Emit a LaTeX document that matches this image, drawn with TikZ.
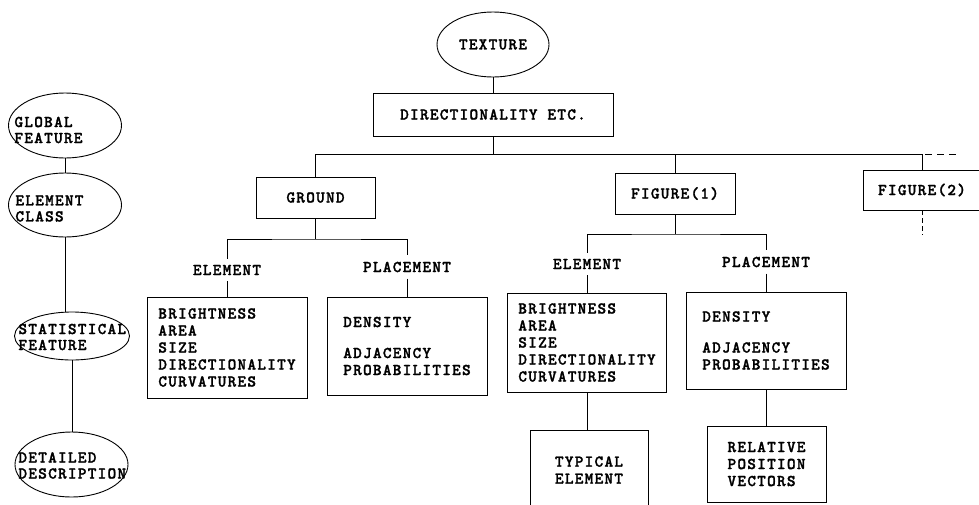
\documentclass[tikz,border=0pt]{standalone}
\usepackage{fontspec}
\setmonofont{lmmonolt10-bold.otf}[LetterSpace=7.5,FakeBold=1.5]
\usetikzlibrary{shapes.geometric}
\begin{document}
\begin{tikzpicture}[x=1pt,y=-1pt,line width=0.9pt,
  every node/.style={font=\fontsize{16.5}{17}\selectfont\ttfamily},
  box/.style={draw,rectangle,inner sep=0pt,align=left},
  oval/.style={draw,ellipse,inner sep=0pt},
  lbl/.style={inner xsep=0pt,inner ysep=6pt},
  etxt/.style={inner sep=0pt,align=left,anchor=west,font=\fontsize{16.5}{16}\selectfont\ttfamily}]
\useasboundingbox (0,0) rectangle (979,504);

% main tree
\node[oval,minimum width=112pt,minimum height=65pt] (texture) at (493,44.5) {TEXTURE};
\node[box,minimum width=240pt,minimum height=43pt] (dir) at (493,114.5) {DIRECTIONALITY ETC.};
\node[box,minimum width=119pt,minimum height=41pt] (ground) at (315.5,197.5) {GROUND};
\node[box,minimum width=120pt,minimum height=41pt] (fig1) at (675,193.5) {FIGURE(1)};
\node[box,minimum width=118pt,minimum height=40pt] (fig2) at (922,190) {FIGURE(2)};

% ground branch
\node[lbl] (gelab) at (227,270) {ELEMENT};
\node[lbl] (gplab) at (407,267) {PLACEMENT};
\node[box,minimum width=160pt,minimum height=101pt] (gel) at (227,347.5) {BRIGHTNESS\\AREA\\SIZE\\DIRECTIONALITY\\CURVATURES};
\node[box,minimum width=160pt,minimum height=98pt] (gpl) at (407,346) {DENSITY\\[14pt]ADJACENCY\\PROBABILITIES};

% figure(1) branch
\node[lbl] (felab) at (587,264) {ELEMENT};
\node[lbl] (fplab) at (766,262) {PLACEMENT};
\node[box,minimum width=159pt,minimum height=99pt] (fel) at (587,342.5) {BRIGHTNESS\\AREA\\SIZE\\DIRECTIONALITY\\CURVATURES};
\node[box,minimum width=160pt,minimum height=97pt] (fpl) at (766,340.5) {DENSITY\\[14pt]ADJACENCY\\PROBABILITIES};
\node[box,minimum width=118pt,minimum height=80pt] (typ) at (589,470) {TYPICAL\\ELEMENT};
\node[box,minimum width=119pt,minimum height=76pt] (rel) at (766.5,464) {RELATIVE\\POSITION\\VECTORS};

% left column
\node[oval,minimum width=113pt,minimum height=65pt] (glob) at (65,125.5) {};
\node[etxt] (globt) at (14,130) {GLOBAL\\FEATURE};
\node[oval,minimum width=113pt,minimum height=64pt] (elcl) at (65,205) {};
\node[etxt] (elclt) at (15,208.5) {ELEMENT\\CLASS};
\node[oval,minimum width=115pt,minimum height=48pt] (stat) at (72,336) {};
\node[etxt] (statt) at (18,337) {STATISTICAL\\FEATURE};
\node[oval,minimum width=113pt,minimum height=65pt] (det) at (71.5,464.5) {};
\node[etxt] (dett) at (18,465.5) {DETAILED\\DESCRIPTION};

% connectors
\coordinate (bar) at (493,154);
\coordinate (barend) at (958,154);
\coordinate (fig2end) at (922,235);
\draw (texture.south) -- (dir.north);
\draw (dir.south) -- (bar);
\draw (ground.north) |- (fig2.north |- bar) -- (fig2.north);
\draw (fig1.north) -- (fig1.north |- bar);
\draw[dash pattern=on 7pt off 5pt,dash phase=9pt] (fig2.north |- bar) -- (barend);
\draw[dash pattern=on 5pt off 3pt] (fig2.south) -- (fig2end);

\coordinate (gbar) at (315.5,239);
\draw (ground.south) -- (gbar);
\draw (gelab.north) |- (gbar) -| (gplab.north);
\draw (gelab.south) -- (gel.north);
\draw (gplab.south) -- (gpl.north);

\coordinate (fbar) at (675,234);
\draw (fig1.south) -- (fbar);
\draw (felab.north) |- (fbar) -| (fplab.north);
\draw (felab.south) -- (fel.north);
\draw (fplab.south) -- (fpl.north);
\draw (fel.south) -- (fel.south |- typ.north);
\draw (fpl.south) -- (fpl.south |- rel.north);

\draw (glob.south) -- (elcl.north);
\draw (elcl.south) -- (elcl.south |- stat.north);
\draw (stat.south) -- (stat.south |- det.north);
\end{tikzpicture}
\end{document}
